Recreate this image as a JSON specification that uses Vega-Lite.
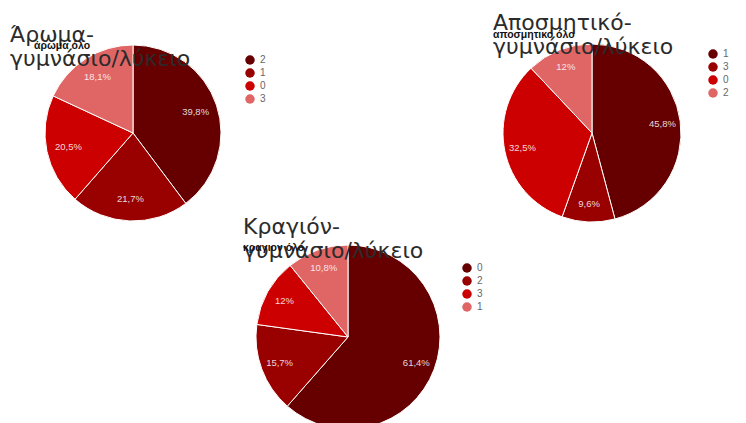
{
  "$schema": "https://vega.github.io/schema/vega-lite/v6.json",
  "padding": {"left": 10, "top": 12, "right": 0, "bottom": 0},
  "background": "white",
  "spacing": -8,
  "config": {
    "view": {"stroke": null},
    "title": {"font": "DejaVu Sans", "fontSize": 22, "fontWeight": "normal", "color": "#2b2b2b", "anchor": "start", "frame": "group", "lineHeight": 24, "subtitleFont": "Liberation Sans", "subtitleFontSize": 10.5, "subtitleFontWeight": "bold", "subtitleColor": "#111111", "subtitlePadding": -20},
    "legend": {"labelFont": "Liberation Sans", "labelFontSize": 10, "labelColor": "#666666", "symbolType": "circle", "symbolSize": 90, "symbolStrokeWidth": 0, "rowPadding": 3, "labelOffset": 5, "title": null},
    "text": {"font": "Liberation Sans", "fontSize": 9.5, "fill": "#ffffff", "fillOpacity": 0.85}
  },
  "datasets": {
    "pies": [
      {"pie": "aroma", "cat": "2", "ord": 1, "value": 39.8, "label": "39,8%"},
      {"pie": "aroma", "cat": "1", "ord": 2, "value": 21.7, "label": "21,7%"},
      {"pie": "aroma", "cat": "0", "ord": 3, "value": 20.5, "label": "20,5%"},
      {"pie": "aroma", "cat": "3", "ord": 4, "value": 18.1, "label": "18,1%"},
      {"pie": "aposm", "cat": "1", "ord": 1, "value": 45.8, "label": "45,8%"},
      {"pie": "aposm", "cat": "3", "ord": 2, "value": 9.6, "label": "9,6%"},
      {"pie": "aposm", "cat": "0", "ord": 3, "value": 32.5, "label": "32,5%"},
      {"pie": "aposm", "cat": "2", "ord": 4, "value": 12, "label": "12%"},
      {"pie": "kragion", "cat": "0", "ord": 1, "value": 61.4, "label": "61,4%"},
      {"pie": "kragion", "cat": "2", "ord": 2, "value": 15.7, "label": "15,7%"},
      {"pie": "kragion", "cat": "3", "ord": 3, "value": 12, "label": "12%"},
      {"pie": "kragion", "cat": "1", "ord": 4, "value": 10.8, "label": "10,8%"}
    ]
  },
  "resolve": {"scale": {"color": "independent", "theta": "independent"}, "legend": {"color": "independent"}},
  "vconcat": [
    {
      "bounds": "flush",
      "spacing": 282,
      "resolve": {"scale": {"color": "independent", "theta": "independent"}, "legend": {"color": "independent"}},
      "hconcat": [
        {
          "width": 176, "height": 176,
          "title": {"text": ["Άρωμα-", "γυμνάσιο/λύκειο"], "subtitle": "\u2800\u2800\u2800άρωμα όλο", "dx": -35, "offset": -28, "subtitlePadding": -30},
          "data": {"name": "pies"},
          "transform": [{"filter": "datum.pie === 'aroma'"}],
          "encoding": {
            "theta": {"field": "value", "type": "quantitative", "stack": true},
            "order": {"field": "ord", "type": "quantitative"},
            "color": {"field": "cat", "type": "nominal", "scale": {"domain": ["2", "1", "0", "3"], "range": ["#660000", "#990000", "#cc0000", "#e06666"]}, "legend": {"offset": 14, "padding": 10}}
          },
          "layer": [
            {"mark": {"type": "arc", "outerRadius": 88, "stroke": "#ffffff", "strokeWidth": 1}},
            {"mark": {"type": "text", "radius": 66}, "encoding": {"text": {"field": "label"}, "color": {"value": "#ffffff"}}}
          ]
        },
        {
          "width": 178, "height": 176,
          "title": {"text": ["Αποσμητικό-", "γυμνάσιο/λύκειο"], "subtitle": "αποσμητικο όλο", "dx": -10, "offset": -17, "subtitlePadding": -29},
          "data": {"name": "pies"},
          "transform": [{"filter": "datum.pie === 'aposm'"}],
          "encoding": {
            "theta": {"field": "value", "type": "quantitative", "stack": true},
            "order": {"field": "ord", "type": "quantitative"},
            "color": {"field": "cat", "type": "nominal", "scale": {"domain": ["1", "3", "0", "2"], "range": ["#660000", "#990000", "#cc0000", "#e06666"]}, "legend": {"offset": 23, "padding": 4}}
          },
          "layer": [
            {"mark": {"type": "arc", "outerRadius": 89, "stroke": "#ffffff", "strokeWidth": 1}},
            {"mark": {"type": "text", "radius": 71}, "encoding": {"text": {"field": "label"}, "color": {"value": "#ffffff"}}}
          ]
        }
      ]
    },
    {
      "bounds": "flush",
      "spacing": 210,
      "resolve": {"scale": {"color": "independent", "theta": "independent"}, "legend": {"color": "independent"}},
      "hconcat": [
        {
          "width": 1, "height": 1,
          "data": {"values": [{"a": 1}]},
          "mark": {"type": "point", "opacity": 0, "size": 1},
          "encoding": {}
        },
        {
          "width": 184, "height": 184,
          "title": {"text": ["Κραγιόν-", "γυμνάσιο/λύκειο"], "subtitle": "κραγιον όλο", "dx": -13, "offset": -20},
          "data": {"name": "pies"},
          "transform": [{"filter": "datum.pie === 'kragion'"}],
          "encoding": {
            "theta": {"field": "value", "type": "quantitative", "stack": true},
            "order": {"field": "ord", "type": "quantitative"},
            "color": {"field": "cat", "type": "nominal", "scale": {"domain": ["0", "2", "3", "1"], "range": ["#660000", "#990000", "#cc0000", "#e06666"]}, "legend": {"offset": 4, "padding": 18}}
          },
          "layer": [
            {"mark": {"type": "arc", "outerRadius": 92, "stroke": "#ffffff", "strokeWidth": 1}},
            {"mark": {"type": "text", "radius": 73}, "encoding": {"text": {"field": "label"}, "color": {"value": "#ffffff"}}}
          ]
        }
      ]
    }
  ]
}
